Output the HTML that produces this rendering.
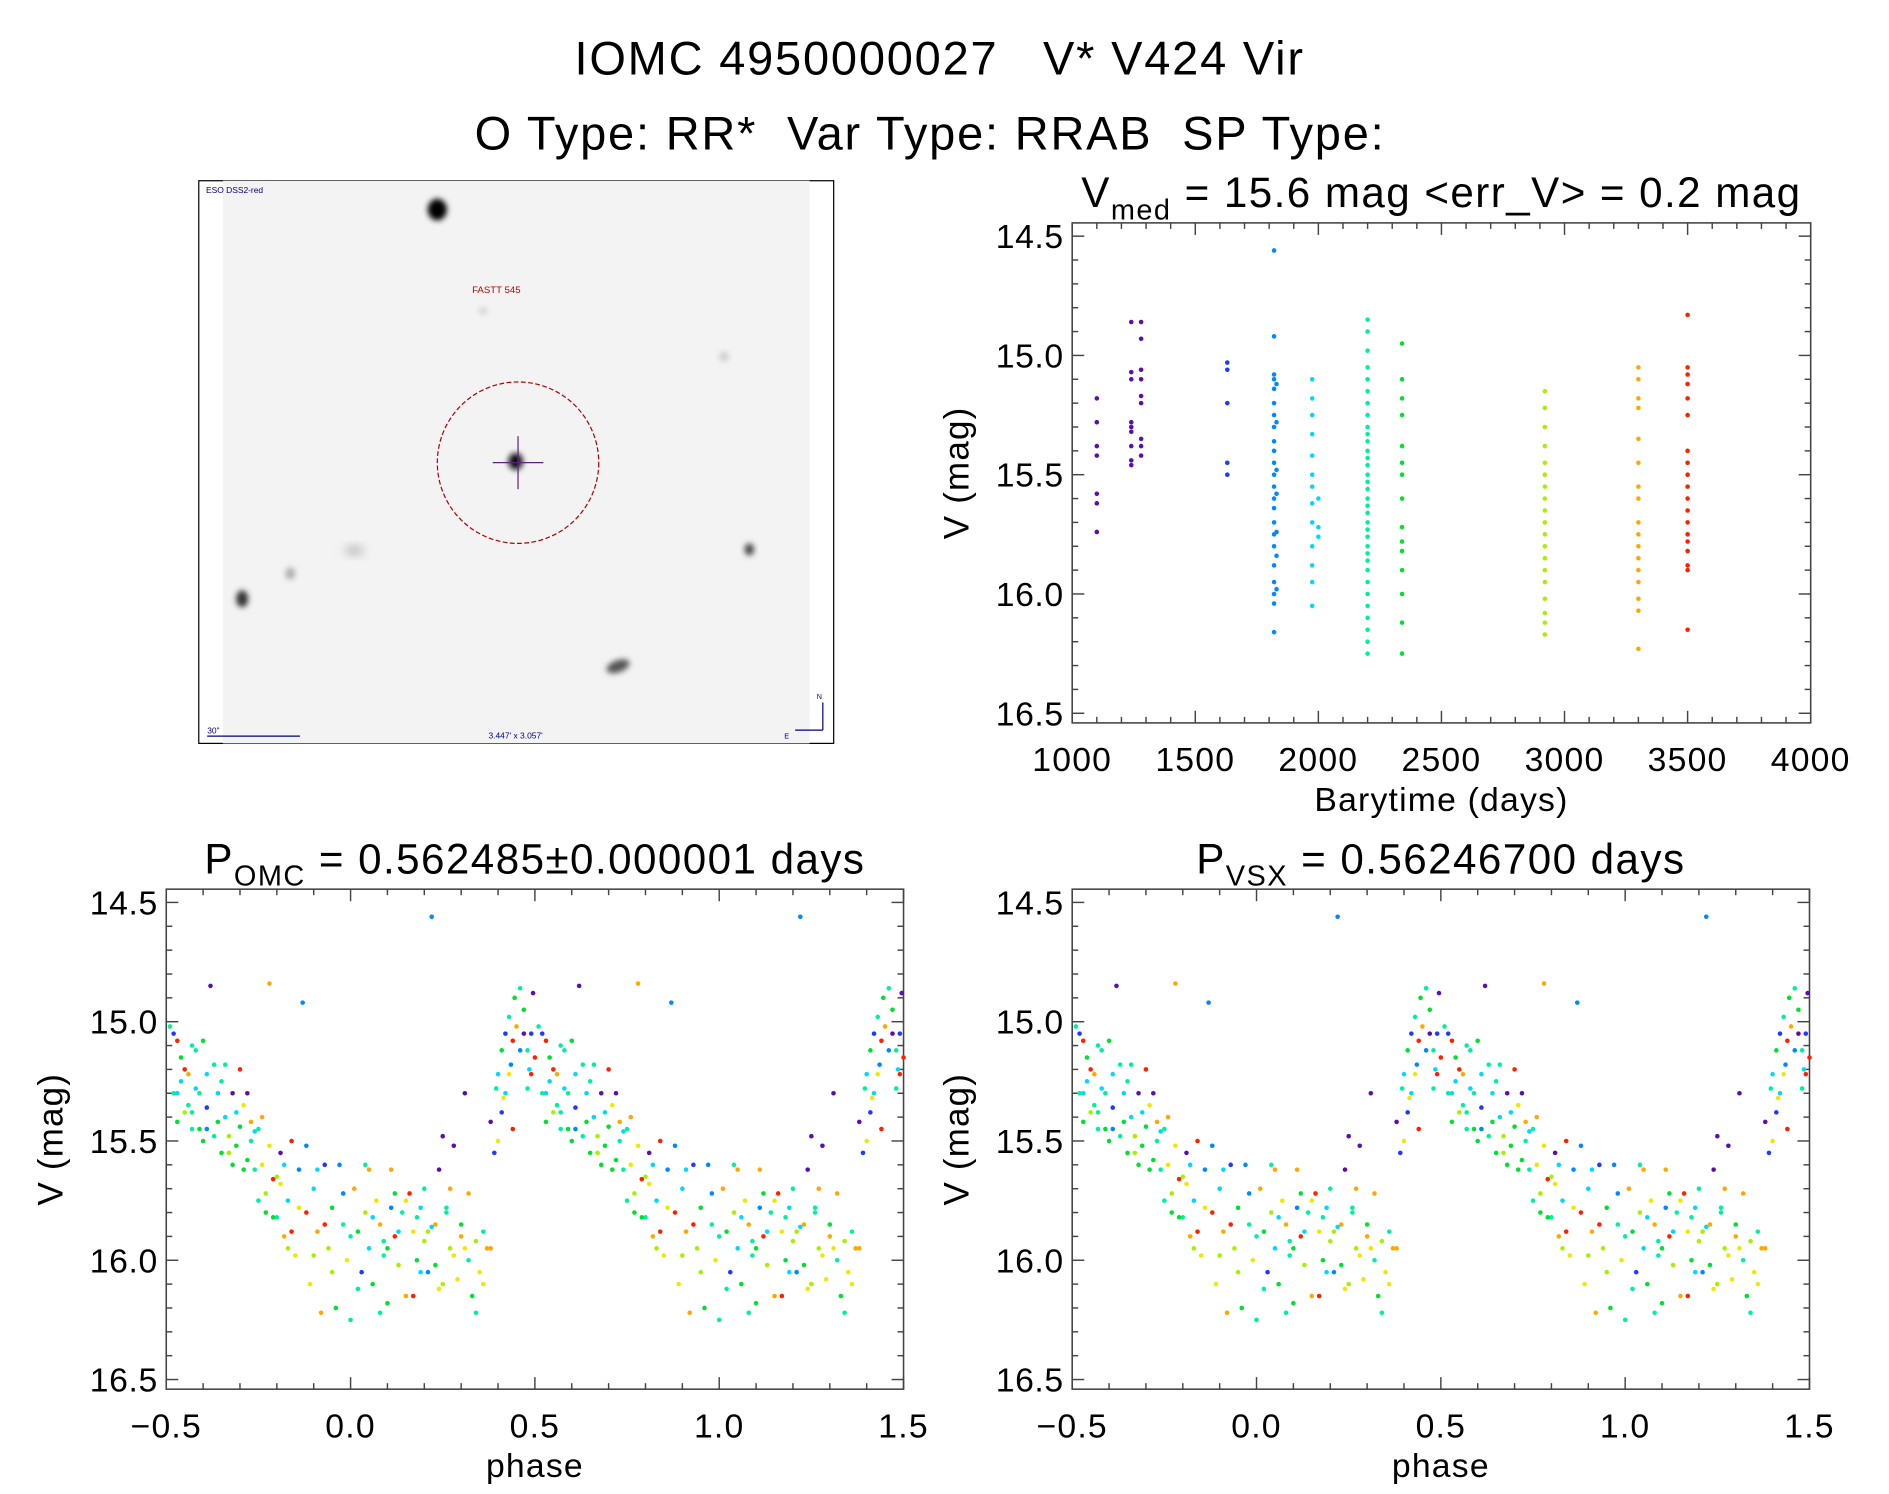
<!DOCTYPE html>
<html><head><meta charset="utf-8">
<style>
html,body{margin:0;padding:0;background:#fff;}
svg{display:block;font-family:"Liberation Sans",sans-serif;}
</style></head>
<body>
<svg id="root" width="1889" height="1494" viewBox="0 0 1568 1240" preserveAspectRatio="none" xmlns="http://www.w3.org/2000/svg">
<defs>
<filter id="blur2" x="-50%" y="-50%" width="200%" height="200%"><feGaussianBlur stdDeviation="2.5"/></filter>
<filter id="blur4" x="-50%" y="-50%" width="200%" height="200%"><feGaussianBlur stdDeviation="4"/></filter>
</defs>
<text x="780" y="62" font-size="39" letter-spacing="1.5" text-anchor="middle" xml:space="preserve">IOMC 4950000027   V* V424 Vir</text>
<text x="772" y="124" font-size="39" letter-spacing="1.5" text-anchor="middle" xml:space="preserve">O Type: RR*  Var Type: RRAB  SP Type:</text>

<g>
<rect x="165" y="150" width="527" height="467" fill="#fff" stroke="#000" stroke-width="1"/>
<rect x="185" y="150" width="487" height="467" fill="#f3f3f3"/>
<ellipse cx="363" cy="174" rx="8" ry="9" fill="#000" filter="url(#blur2)"/>
<ellipse cx="428" cy="383" rx="6" ry="7" fill="#111" filter="url(#blur2)"/>
<ellipse cx="201" cy="497" rx="5" ry="7" fill="#333" filter="url(#blur2)"/>
<ellipse cx="622" cy="456" rx="4" ry="5" fill="#444" filter="url(#blur2)"/>
<ellipse cx="513" cy="553" rx="10" ry="5" fill="#555" filter="url(#blur2)" transform="rotate(-20 513 553)"/>
<ellipse cx="294" cy="457" rx="8" ry="4" fill="#bbb" filter="url(#blur4)"/>
<ellipse cx="241" cy="476" rx="4" ry="5" fill="#aaa" filter="url(#blur2)"/>
<ellipse cx="601" cy="296" rx="4" ry="4" fill="#ccc" filter="url(#blur2)"/>
<ellipse cx="401" cy="258" rx="3" ry="3" fill="#ccc" filter="url(#blur2)"/>
<circle cx="430" cy="384" r="67" fill="none" stroke="#b00000" stroke-width="1" stroke-dasharray="4,2"/>
<line x1="409" y1="384" x2="451" y2="384" stroke="#602080" stroke-width="1"/>
<line x1="430" y1="362" x2="430" y2="406" stroke="#602080" stroke-width="1"/>
<text x="171" y="160" font-size="7" fill="#000080">ESO DSS2-red</text>
<text x="412" y="243" font-size="8" fill="#c00000" text-anchor="middle">FASTT 545</text>
<text x="172" y="609" font-size="7" fill="#000080">30"</text>
<line x1="172" y1="611" x2="249" y2="611" stroke="#000080" stroke-width="1"/>
<text x="428" y="613" font-size="7" fill="#000080" text-anchor="middle">3.447' x 3.057'</text>
<line x1="683" y1="583" x2="683" y2="606" stroke="#000080" stroke-width="1"/>
<line x1="660" y1="606" x2="683" y2="606" stroke="#000080" stroke-width="1"/>
<text x="678" y="580" font-size="6" fill="#000080">N</text>
<text x="651" y="613" font-size="6" fill="#000080">E</text>
</g>
<g id="plots"></g>
</svg>
<script>
// ---- time-series data ----
const tsTimes = [1100,1240,1280,1630,1820,1830,1975,2000,2200,2340,2920,3300,3500];
const tsColorIdx = [0,0,0,1,2,2,3,3,4,5,6,8,9];
const tsMags = [
 [15.18,15.28,15.38,15.42,15.58,15.62,15.74],
 [14.86,15.07,15.1,15.28,15.3,15.32,15.38,15.44,15.46],
 [14.86,14.93,15.06,15.1,15.17,15.2,15.35,15.38,15.42],
 [15.03,15.06,15.2,15.45,15.5],
 [14.56,14.92,15.08,15.1,15.14,15.2,15.25,15.3,15.36,15.4,15.45,15.5,15.55,15.6,15.64,15.7,15.75,15.8,15.88,15.95,16.0,16.04,16.16],
 [15.12,15.28,15.48,15.58,15.74,15.84,15.98],
 [15.1,15.18,15.25,15.33,15.42,15.5,15.55,15.62,15.7,15.8,15.88,15.95,16.05],
 [15.6,15.72,15.76],
 [14.85,14.9,14.98,15.05,15.1,15.15,15.2,15.25,15.3,15.33,15.36,15.4,15.43,15.46,15.5,15.53,15.56,15.6,15.63,15.66,15.7,15.73,15.76,15.8,15.83,15.86,15.9,15.95,16.0,16.05,16.1,16.15,16.2,16.25],
 [14.95,15.1,15.18,15.25,15.38,15.45,15.5,15.6,15.72,15.78,15.82,15.9,16.0,16.12,16.25],
 [15.15,15.22,15.3,15.38,15.45,15.5,15.55,15.6,15.65,15.7,15.75,15.8,15.85,15.9,15.95,16.02,16.08,16.12,16.17],
 [15.05,15.1,15.18,15.22,15.35,15.45,15.55,15.6,15.7,15.75,15.8,15.85,15.9,15.95,16.02,16.07,16.23],
 [14.83,15.05,15.08,15.12,15.18,15.25,15.4,15.45,15.5,15.55,15.6,15.65,15.7,15.75,15.78,15.82,15.88,15.9,16.15]
];
// ---- folded light curve data: phase, mag, colour index ----
const lcPhase = [-0.49,-0.48,-0.47,-0.46,-0.45,-0.44,-0.43,-0.42,-0.41,-0.40,-0.39,-0.38,-0.37,-0.36,-0.35,-0.34,-0.33,-0.32,-0.31,-0.30,-0.29,-0.28,-0.27,-0.26,-0.25,-0.24,-0.23,-0.22,-0.21,-0.20,-0.19,-0.18,-0.17,-0.16,-0.15,-0.14,-0.13,-0.12,-0.11,-0.10,-0.09,-0.08,-0.07,-0.06,-0.05,-0.04,-0.03,-0.02,-0.01,0.0,0.01,0.02,0.03,0.04,0.05,0.06,0.07,0.08,0.09,0.10,0.11,0.12,0.13,0.14,0.15,0.16,0.17,0.18,0.19,0.20,0.21,0.22,0.23,0.24,0.25,0.26,0.27,0.28,0.29,0.30,0.31,0.32,0.33,0.34,0.35,0.36,0.37,0.38,0.39,0.395,0.40,0.41,0.415,0.42,0.43,0.435,0.44,0.445,0.45,0.46,0.47,0.48,0.485,0.49,0.495,-0.44,-0.41,-0.36,-0.30,-0.27,-0.20,0.05,0.12,0.18,0.27,-0.47,-0.43,-0.39,-0.33,-0.23,0.09,0.22,0.31,
 -0.48,-0.47,-0.46,-0.45,-0.43,-0.42,-0.40,-0.39,-0.37,-0.35,-0.34,-0.32,-0.31,-0.29,-0.28,-0.26,-0.25,-0.24,-0.22,-0.21,-0.19,-0.18,-0.17,-0.16,-0.14,-0.12,-0.10,-0.09,-0.07,-0.05,-0.02,0.0,0.02,0.04,0.06,0.08,0.10,0.11,0.13,0.15,0.17,0.19,0.20,0.21,0.23,0.24,0.25,0.26,0.28,0.30,0.32,0.34,0.36,0.38,0.40,0.41,0.42,0.43,0.44,0.46,0.47,0.48,0.49,0.50];
const lcMag = [15.02,15.05,15.08,15.15,15.2,15.22,15.1,15.28,15.3,15.08,15.36,14.85,15.18,15.42,15.25,15.4,15.48,15.3,15.52,15.2,15.35,15.58,15.42,15.62,15.45,15.6,15.72,14.84,15.66,15.82,15.55,15.9,15.75,15.5,15.98,15.62,14.92,15.8,16.1,15.7,15.88,16.22,15.6,15.95,15.78,16.2,15.6,15.85,16.0,16.25,15.7,15.88,16.05,15.8,15.95,16.1,15.75,15.85,15.92,16.18,15.78,15.9,16.02,15.8,16.15,15.72,15.88,16.0,15.78,15.92,16.05,14.56,15.85,16.12,15.48,15.8,15.95,15.52,16.08,15.9,15.3,16.0,16.15,15.92,16.05,16.1,15.95,15.42,15.55,15.28,15.22,15.12,15.32,15.05,14.98,15.18,15.08,14.9,15.02,14.86,15.05,15.12,15.2,15.22,14.88,15.35,15.45,15.3,15.44,15.5,15.65,15.62,15.72,15.82,15.7,15.3,15.38,15.45,15.55,15.8,15.98,15.86,15.95,
 15.3,15.42,15.25,15.38,15.45,15.12,15.5,15.22,15.48,15.55,15.18,15.6,15.38,15.62,15.3,15.46,15.75,15.4,15.52,15.82,15.68,15.6,15.95,15.88,15.78,15.52,15.98,15.62,15.85,16.05,15.72,15.9,16.12,15.6,15.82,16.22,15.95,15.62,15.88,15.75,16.15,16.05,15.7,15.88,16.02,15.62,16.1,15.78,15.98,15.85,15.72,16.22,15.88,15.95,15.5,15.38,15.3,15.22,15.45,15.12,14.95,15.28,15.05,15.15];
const lcColor = [4,1,9,5,9,8,4,3,4,5,1,0,4,5,4,3,6,0,5,9,7,5,8,4,4,7,6,8,9,4,0,8,3,9,7,2,2,9,7,3,8,8,1,6,5,5,2,4,7,4,8,5,1,6,3,5,7,8,4,5,2,9,6,4,8,9,7,5,3,6,2,2,8,7,0,4,6,0,7,8,0,4,5,6,7,7,8,0,1,4,3,5,7,1,4,2,9,5,8,4,0,4,3,9,0,4,5,3,5,4,6,8,5,4,8,3,4,2,6,5,4,3,7,
 4,5,3,6,4,4,5,3,4,5,4,5,3,5,0,3,4,8,7,5,7,3,6,9,7,2,6,3,9,6,2,4,4,4,3,4,5,8,3,7,9,3,4,6,5,0,6,4,7,5,8,4,4,8,7,1,3,7,9,2,5,4,1,9];
const yTickLabels = ["14.5","15.0","15.5","16.0","16.5"];
const tsXTickLabels = ["1000","1500","2000","2500","3000","3500","4000"];
const phXTickLabels = ["\u22120.5","0.0","0.5","1.0","1.5"];
const palette = ["#5a10a8","#2038ff","#0088ff","#00d8ff","#00f0a0","#00e030","#a8f000","#f0e800","#ffa800","#ff2000"];

const NS = "http://www.w3.org/2000/svg";
const plots = document.getElementById('plots');
function mk(tag, attrs, parent){
  const e = document.createElementNS(NS, tag);
  for (const k in attrs) e.setAttribute(k, attrs[k]);
  (parent||plots).appendChild(e);
  return e;
}
function axes(name, x0, x1, y0, y1, xmin, xmax, xMajor, xMinorN, xLabels, ymin, ymax, title, xTitle){
  const g = mk('g', {});
  
  
  const X = v => x0 + (v - xmin) / (xmax - xmin) * (x1 - x0);
  const Y = v => (y0 + 11) + (v - ymin) / (ymax - ymin) * ((y1 - 8) - (y0 + 11));
  const frame = mk('rect', {x:x0, y:y0, width:x1-x0, height:y1-y0, fill:'none', stroke:'#444', 'stroke-width':1.3}, g);
  
  
  const xStep = xMajor / xMinorN;
  for (let i = 0; xmin + i*xStep <= xmax + 1e-9; i++){
    const v = xmin + i*xStep, x = X(v), major = (i % xMinorN) === 0, L = major ? 10 : 5;
    mk('line', {x1:x, y1:y1, x2:x, y2:y1-L, stroke:'#444','stroke-width':1.2}, g);
    mk('line', {x1:x, y1:y0, x2:x, y2:y0+L, stroke:'#444','stroke-width':1.2}, g);
  }
  xLabels.forEach((lab, i) => {
    const t = mk('text', {x:X(xmin + i*xMajor), y:y1+40, 'font-size':28, 'letter-spacing':1, 'text-anchor':'middle'}, g);
    
    
    t.textContent = lab;
  });
  for (let i = 0; ymin + i*0.1 <= ymax + 1e-9; i++){
    const v = ymin + i*0.1, y = Y(v), major = (i % 5) === 0, L = major ? 10 : 5;
    mk('line', {x1:x0, y1:y, x2:x0+L, y2:y, stroke:'#444','stroke-width':1.2}, g);
    mk('line', {x1:x1, y1:y, x2:x1-L, y2:y, stroke:'#444','stroke-width':1.2}, g);
  }
  yTickLabels.forEach((lab, i) => {
    const t = mk('text', {x:x0-7, y:Y(ymin + i*0.5)+10, 'font-size':28, 'letter-spacing':0.5, 'text-anchor':'end'}, g);
    
    
    t.textContent = lab;
  });
  const yt = mk('text', {x:0, y:0, 'font-size':29, 'letter-spacing':1, 'text-anchor':'middle', transform:`translate(${x0-86},${(y0+y1)/2}) rotate(-90)`}, g);
  
  
  yt.textContent = 'V (mag)';
  const xt = mk('text', {x:(x0+x1)/2, y:y1+73, 'font-size':28, 'letter-spacing':1, 'text-anchor':'middle'}, g);
  
  
  xt.textContent = xTitle;
  const tt = mk('text', {x:(x0+x1)/2, y:y0-13, 'font-size':35, 'letter-spacing':1.2, 'text-anchor':'middle'}, g);
  
  
  tt.setAttribute('xml:space', 'preserve');
  tt.innerHTML = title;
  return {g, X, Y};
}
function dot(g, x, y, c){
  const d = mk('circle', {cx:x, cy:y, r:1.9, fill:c}, g);
  
  
}
const ts = axes('time-series-plot', 890, 1503, 185, 600, 1000, 4000, 500, 5, tsXTickLabels, 14.5, 16.5,
  'V<tspan dy="10" font-size="24">med</tspan><tspan dy="-10">  =  15.6 mag &lt;err_V&gt;  =  0.2 mag</tspan>', 'Barytime (days)');
tsTimes.forEach((t, i) => {
  tsMags[i].forEach(m => dot(ts.g, ts.X(t), ts.Y(m), palette[tsColorIdx[i]]));
});
function phasePlot(name, x0, title){
  const p = axes(name, x0, x0+612, 738, 1153, -0.5, 1.5, 0.5, 5, phXTickLabels, 14.5, 16.5, title, 'phase');
  lcPhase.forEach((ph, i) => {
    [ph, ph+1].forEach(v => {
      if (v >= -0.5 && v <= 1.5) dot(p.g, p.X(v), p.Y(lcMag[i]), palette[lcColor[i]]);
    });
  });
}
phasePlot('phase-plot-omc', 138, 'P<tspan dy="10" font-size="24">OMC</tspan><tspan dy="-10">  =  0.562485±0.000001  days</tspan>');
phasePlot('phase-plot-vsx', 890, 'P<tspan dy="10" font-size="24">VSX</tspan><tspan dy="-10">  =  0.56246700  days</tspan>');
</script>
</body></html>
